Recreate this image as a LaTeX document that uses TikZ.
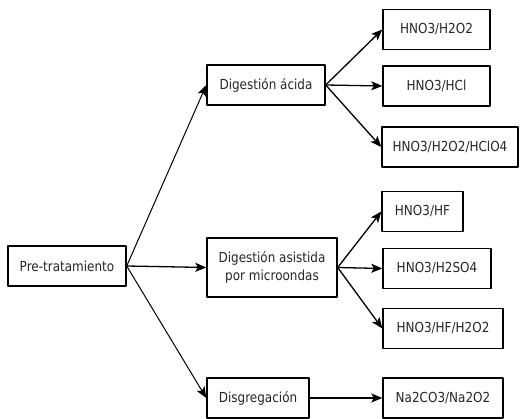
\documentclass[tikz,border=0pt]{standalone}
\usepackage{fontspec}
\setmainfont{DejaVu Sans}[FakeStretch=0.87]
\usetikzlibrary{arrows.meta}
\tikzset{
  caja/.style={draw,line width=1.4pt,inner sep=2pt,align=center,
    font=\fontsize{13.8}{18}\selectfont,text=black!85},
  flecha/.style={line width=1.3pt,-{Stealth[length=11pt,width=9pt,inset=2.5pt]}},
}
\begin{document}
\begin{tikzpicture}[x=1pt,y=-1pt,line cap=round,line join=round]
    \useasboundingbox (0,0) rectangle (520,419);
    \def\alto{40pt}
    % raiz
    \node[caja,minimum width=118pt,minimum height=\alto] (pre) at (67,266) {Pre-tratamiento};
    % metodos
    \node[caja,minimum width=118pt,minimum height=\alto] (acida) at (266,85) {Digestión ácida};
    \node[caja,minimum width=130pt,minimum height=59pt] (asistida) at (272,267.5) {Digestión asistida\\ por microondas};
    \node[caja,minimum width=102pt,minimum height=\alto] (disg) at (258,398) {Disgregación};
    % reactivos
    \node[caja,minimum width=107pt,minimum height=\alto] (hho) at (436.5,29.5) {HNO3/H2O2};
    \node[caja,minimum width=107pt,minimum height=\alto] (hcl) at (436.5,86) {HNO3/HCl};
    \node[caja,minimum width=136pt,minimum height=\alto] (hclo) at (450,147) {HNO3/H2O2/HClO4};
    \node[caja,minimum width=81pt,minimum height=\alto] (hf) at (422.5,211.5) {HNO3/HF};
    \node[caja,minimum width=108pt,minimum height=\alto] (hso) at (437,268.5) {HNO3/H2SO4};
    \node[caja,minimum width=120pt,minimum height=\alto] (hfho) at (443,328.5) {HNO3/HF/H2O2};
    \node[caja,minimum width=120pt,minimum height=\alto] (na) at (443,398) {Na2CO3/Na2O2};
    % flechas
    \draw[flecha,line width=1pt] (pre.east) -- (acida.west);
    \draw[flecha] (pre.east) -- (asistida.west);
    \draw[flecha,line width=1pt] (pre.east) -- (disg.west);
    \foreach \hijo in {hho,hcl,hclo}
        \draw[flecha] (acida.east) -- (\hijo.west);
    \foreach \hijo in {hf,hso,hfho}
        \draw[flecha] (asistida.east) -- (\hijo.west);
    \draw[flecha] (disg.east) -- (na.west);
\end{tikzpicture}
\end{document}
